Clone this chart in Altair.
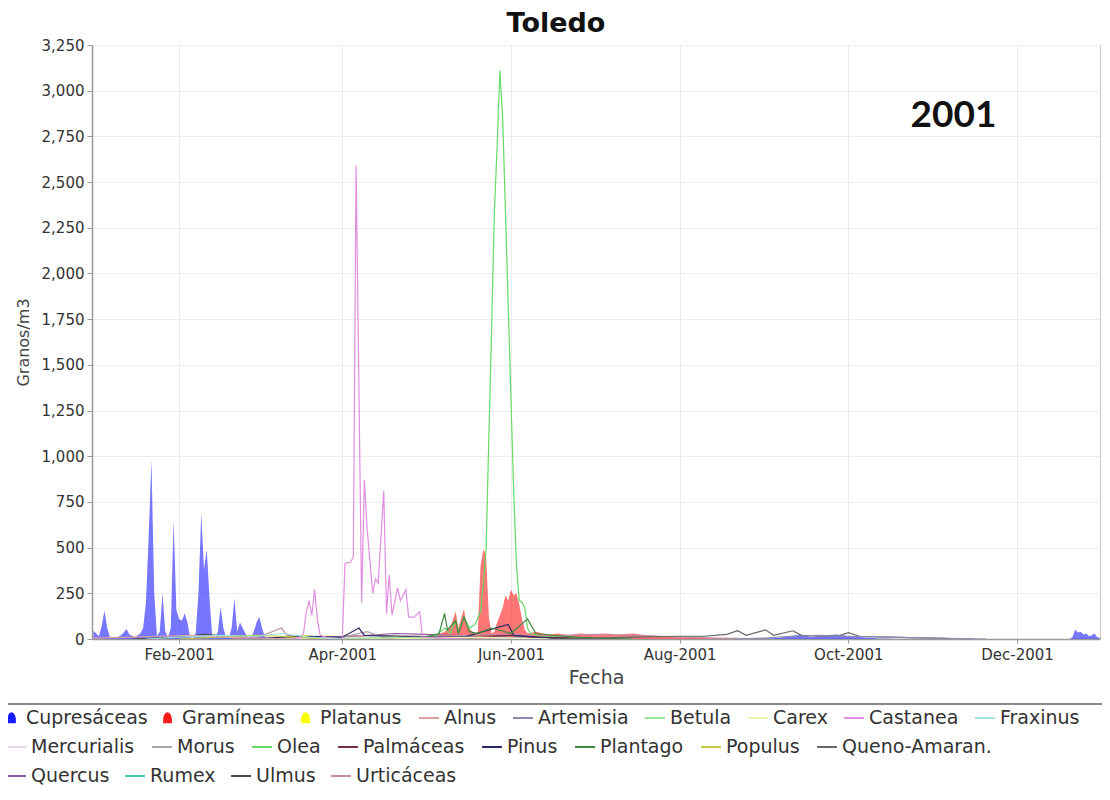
import altair as alt
import pandas as pd

# ---------------- data ----------------
area_series = ["Cupresáceas", "Gramíneas", "Platanus"]
area_colors = ["#1a1aff", "#ff1a1a", "#ffff00"]

line_series_a = ["Alnus", "Artemisia", "Betula", "Carex", "Castanea", "Fraxinus"]
line_colors_a = ["#d9a3a3", "#8c8cb3", "#99e699", "#f2f2b3", "#e08ee0", "#9fe0e0"]

line_series_b = ["Mercurialis", "Morus", "Olea", "Palmáceas", "Pinus", "Plantago",
                 "Populus", "Queno-Amaran."]
line_colors_b = ["#e6d5e6", "#a6a6a6", "#66da66", "#7a2e4a", "#2a2a6a", "#3d8a3d",
                 "#c8c83c", "#666666"]

line_series_c = ["Quercus", "Rumex", "Ulmus", "Urticáceas"]
line_colors_c = ["#8e5a9e", "#3cc8b4", "#4a4a4a", "#c48aa4"]

cupre_dates = ["01-01", "01-02", "01-03", "01-04", "01-05", "01-06", "01-07", "01-09", "01-11", "01-12",
               "01-13", "01-14", "01-16", "01-17", "01-18", "01-19", "01-20", "01-21", "01-22", "01-23",
               "01-24", "01-25", "01-26", "01-27", "01-28", "01-29", "01-30", "01-31", "02-01", "02-02",
               "02-03", "02-04", "02-05", "02-06", "02-07", "02-08", "02-09", "02-10", "02-11", "02-12",
               "02-13", "02-14", "02-15", "02-16", "02-17", "02-18", "02-19", "02-20", "02-21", "02-22",
               "02-23", "02-24", "02-25", "02-26", "02-27", "02-28", "03-01", "03-02", "03-03", "03-04",
               "03-08", "03-15", "03-25", "04-05", "04-20", "08-25", "09-05", "09-10", "09-14", "09-18",
               "09-22", "09-27", "10-01", "10-06", "10-12", "10-20", "12-20", "12-21", "12-22", "12-23",
               "12-24", "12-25", "12-26", "12-27", "12-28", "12-29", "12-30", "12-31"]
cupre_vals = [45, 30, 15, 70, 155, 60, 10, 5, 20, 35,
              55, 25, 10, 20, 30, 60, 200, 560, 980, 250,
              15, 40, 250, 40, 10, 60, 650, 160, 110, 100,
              140, 90, 10, 5, 30, 250, 690, 380, 490, 220,
              10, 5, 40, 175, 60, 10, 5, 60, 225, 40,
              90, 60, 30, 5, 10, 40, 90, 120, 60, 10,
              5, 8, 3, 2, 0, 0, 5, 15, 25, 10,
              20, 25, 15, 10, 3, 0, 0, 10, 50, 35,
              40, 25, 30, 15, 20, 30, 10, 5]

gram_dates = ["04-20", "05-01", "05-05", "05-08", "05-10", "05-12", "05-13", "05-15", "05-16", "05-18",
              "05-19", "05-20", "05-21", "05-22", "05-23", "05-24", "05-25", "05-26", "05-27", "05-28",
              "05-29", "05-30", "05-31", "06-01", "06-02", "06-03", "06-04", "06-05", "06-06", "06-07",
              "06-10", "06-14", "06-18", "06-22", "06-26", "07-01", "07-05", "07-10", "07-15", "07-20",
              "07-25", "07-31", "08-10", "08-31"]
gram_vals = [0, 5, 20, 40, 60, 150, 60, 165, 70, 40,
             30, 40, 400, 490, 460, 120, 30, 40, 90, 130,
             170, 240, 210, 270, 240, 250, 190, 110, 50, 30,
             40, 25, 30, 20, 30, 25, 30, 25, 30, 20,
             15, 10, 5, 0]

plat_dates = ["03-05", "03-12", "03-18", "03-22", "03-28", "04-02", "04-10", "04-20"]
plat_vals = [0, 10, 25, 15, 20, 10, 5, 0]

alnus_dates = ["01-01", "01-15", "01-25", "02-05", "02-15", "03-01", "03-15"]
alnus_vals = [5, 10, 15, 20, 10, 5, 0]

artem_dates = ["08-20", "09-01", "09-10", "09-20", "10-01", "10-15", "11-01", "11-20"]
artem_vals = [0, 5, 15, 20, 15, 10, 5, 0]

betula_dates = ["04-01", "04-10", "04-20", "05-01", "05-10"]
betula_vals = [0, 5, 10, 5, 0]

carex_dates = ["04-15", "05-01", "05-20", "06-01", "06-15"]
carex_vals = [0, 5, 10, 5, 0]

cast_dates = ["03-14", "03-17", "03-18", "03-19", "03-20", "03-21", "03-22", "03-23", "03-24", "03-26",
              "03-29", "04-01", "04-02", "04-04", "04-05", "04-06", "04-08", "04-09", "04-10", "04-12",
              "04-13", "04-14", "04-16", "04-17", "04-18", "04-19", "04-21", "04-22", "04-24", "04-25",
              "04-27", "04-29", "04-30", "05-05", "05-15"]
cast_vals = [0, 10, 30, 150, 210, 130, 270, 110, 20, 10,
             5, 0, 415, 420, 450, 2590, 200, 870, 600, 250,
             330, 305, 810, 140, 350, 130, 280, 210, 270, 120,
             120, 150, 10, 5, 0]

frax_dates = ["01-20", "02-01", "02-15", "03-01", "03-10", "03-20", "04-01"]
frax_vals = [0, 10, 20, 15, 30, 10, 0]

merc_dates = ["03-01", "04-01", "05-01", "06-01", "07-01"]
merc_vals = [0, 5, 10, 5, 0]

morus_dates = ["03-20", "04-01", "04-10", "04-15", "04-25", "05-05", "05-20"]
morus_vals = [0, 10, 40, 15, 10, 5, 0]

olea_dates = ["04-20", "05-01", "05-05", "05-08", "05-10", "05-12", "05-13", "05-15", "05-17", "05-19",
              "05-21", "05-22", "05-23", "05-24", "05-25", "05-26", "05-27", "05-28", "05-29", "05-30",
              "05-31", "06-01", "06-02", "06-03", "06-04", "06-05", "06-06", "06-07", "06-08", "06-12",
              "06-20", "07-01", "07-15"]
olea_vals = [0, 10, 20, 60, 30, 100, 40, 120, 60, 80,
             150, 300, 490, 1100, 1700, 2330, 2700, 3110, 2850, 2340,
             1830, 1310, 800, 400, 210, 200, 170, 60, 30, 15,
             10, 5, 0]

palm_dates = ["04-15", "05-01", "05-15", "06-01", "06-10", "06-25", "07-10"]
palm_vals = [0, 5, 10, 20, 10, 5, 0]

pinus_dates = ["03-01", "03-10", "03-20", "04-01", "04-07", "04-09", "04-20", "05-01", "05-15", "05-31",
               "06-02", "06-15", "07-01"]
pinus_vals = [0, 10, 15, 10, 60, 20, 15, 10, 10, 80,
              20, 5, 0]

plant_dates = ["04-20", "05-01", "05-06", "05-08", "05-09", "05-12", "05-13", "05-15", "05-17", "05-20",
               "05-25", "06-01", "06-07", "06-10", "06-20", "07-01", "07-15"]
plant_vals = [0, 10, 30, 140, 50, 100, 30, 120, 40, 30,
              60, 30, 110, 30, 15, 5, 0]

popul_dates = ["02-01", "02-15", "03-01", "03-10", "03-20", "04-01"]
popul_vals = [0, 10, 20, 15, 5, 0]

queno_dates = ["06-15", "07-01", "07-15", "08-01", "08-10", "08-18", "08-22", "08-25", "09-01", "09-04",
               "09-11", "09-14", "09-20", "09-28", "10-01", "10-05", "10-15", "10-31", "11-15"]
queno_vals = [0, 5, 10, 15, 15, 25, 45, 20, 50, 20,
              45, 20, 15, 20, 35, 15, 10, 5, 0]

querc_dates = ["03-25", "04-01", "04-10", "04-20", "05-01", "05-10", "05-20", "06-01", "06-15"]
querc_vals = [0, 10, 20, 30, 25, 20, 15, 10, 0]

rumex_dates = ["04-15", "05-01", "05-15", "06-01", "06-15"]
rumex_vals = [0, 5, 10, 5, 0]

ulmus_dates = ["01-15", "02-01", "02-10", "02-20", "03-01", "03-15"]
ulmus_vals = [0, 10, 25, 15, 5, 0]

urt_dates = ["02-20", "03-01", "03-05", "03-10", "03-12", "03-20", "04-01", "04-15", "05-01", "05-15",
             "06-01", "06-10", "07-01", "07-15", "08-01", "08-15", "09-01"]
urt_vals = [0, 10, 30, 60, 20, 10, 15, 20, 15, 20,
            30, 15, 25, 20, 10, 5, 0]

y_ticks = list(range(0, 3251, 250))
x_tick_months = [2, 4, 6, 8, 10, 12]

ann_dates = ["11-08"]
ann_vals = [2860]
ann_text = ["2001"]

# ---------------- build tables ----------------
series_points = {
    "Cupresáceas": (cupre_dates, cupre_vals),
    "Gramíneas": (gram_dates, gram_vals),
    "Platanus": (plat_dates, plat_vals),
    "Alnus": (alnus_dates, alnus_vals),
    "Artemisia": (artem_dates, artem_vals),
    "Betula": (betula_dates, betula_vals),
    "Carex": (carex_dates, carex_vals),
    "Castanea": (cast_dates, cast_vals),
    "Fraxinus": (frax_dates, frax_vals),
    "Mercurialis": (merc_dates, merc_vals),
    "Morus": (morus_dates, morus_vals),
    "Olea": (olea_dates, olea_vals),
    "Palmáceas": (palm_dates, palm_vals),
    "Pinus": (pinus_dates, pinus_vals),
    "Plantago": (plant_dates, plant_vals),
    "Populus": (popul_dates, popul_vals),
    "Queno-Amaran.": (queno_dates, queno_vals),
    "Quercus": (querc_dates, querc_vals),
    "Rumex": (rumex_dates, rumex_vals),
    "Ulmus": (ulmus_dates, ulmus_vals),
    "Urticáceas": (urt_dates, urt_vals),
}


def table(names):
    rows = []
    for n in names:
        ds, vs = series_points[n]
        for d, v in zip(ds, vs):
            rows.append({"fecha": "2001-" + d, "valor": v, "serie": n})
    return pd.DataFrame(rows)


df_area = table(area_series)
df_la = table(line_series_a)
df_lb = table(line_series_b)
df_lc = table(line_series_c)
df_ann = pd.DataFrame({"fecha": ["2001-" + d for d in ann_dates], "valor": ann_vals, "txt": ann_text})

# ---------------- chart ----------------
W, H = 1008, 594
FONT = "DejaVu Sans"

x_enc = alt.X(
    "fecha:T",
    title="Fecha",
    scale=alt.Scale(type="utc", nice=False,
                    domain=[alt.DateTime(year=2000, month=12, date=31, hours=12, utc=True),
                            alt.DateTime(year=2001, month=12, date=31, utc=True)]),
    axis=alt.Axis(values=[alt.DateTime(year=2001, month=m, date=1, utc=True) for m in x_tick_months],
                  format="%b-%Y", labelFontSize=15, titleFontSize=19, tickSize=4,
                  labelPadding=4, titlePadding=6, labelFlush=False),
)
y_enc = alt.Y(
    "valor:Q",
    title="Granos/m3",
    stack=None,
    scale=alt.Scale(domain=[0, 3250], nice=False),
    axis=alt.Axis(values=y_ticks, format=",d", labelFontSize=15, titleFontSize=16,
                  tickSize=5, labelPadding=3, titlePadding=10),
)

common_legend = dict(orient="none", direction="horizontal", title=None, labelFont=FONT,
                     labelFontSize=19, labelColor="#333333", labelLimit=400, symbolOpacity=1)
line_legend = dict(symbolType="stroke", symbolSize=400, symbolStrokeWidth=2, labelOffset=4,
                   **common_legend)

areas = alt.Chart(df_area).mark_area(opacity=0.6, interpolate="linear", clip=True).encode(
    x=x_enc, y=y_enc,
    fill=alt.Fill("serie:N", sort=area_series,
                  scale=alt.Scale(domain=area_series, range=area_colors),
                  legend=alt.Legend(legendX=-90, legendY=663, columns=3, columnPadding=10,
                                    symbolType="M-0.8,1L-0.8,0.2Q-0.6,-1 0,-1Q0.6,-1 0.8,0.2L0.8,1Z",
                                    symbolSize=120, labelOffset=5, **common_legend)),
)

lines_a = alt.Chart(df_la).mark_line(strokeWidth=1.2, clip=True).encode(
    x=x_enc, y=y_enc,
    stroke=alt.Stroke("serie:N", sort=line_series_a,
                      scale=alt.Scale(domain=line_series_a, range=line_colors_a),
                      legend=alt.Legend(legendX=326, legendY=662, columns=6, columnPadding=12,
                                        **line_legend)),
)

lines_b = alt.Chart(df_lb).mark_line(strokeWidth=1.2, clip=True).encode(
    x=x_enc, y=y_enc,
    color=alt.Color("serie:N", sort=line_series_b,
                    scale=alt.Scale(domain=line_series_b, range=line_colors_b),
                    legend=alt.Legend(legendX=-87, legendY=691, columns=8, columnPadding=13,
                                      **line_legend)),
)

lines_c = alt.Chart(df_lc).mark_line(strokeWidth=1.2, clip=True).encode(
    x=x_enc, y=y_enc,
    color=alt.Color("serie:N", sort=line_series_c,
                    scale=alt.Scale(domain=line_series_c, range=line_colors_c),
                    legend=alt.Legend(legendX=-87, legendY=720, columns=4, columnPadding=11,
                                      **line_legend)),
)

ann = alt.Chart(df_ann).mark_text(font="Lato", fontWeight="bold", fontSize=37, color="#111111",
                                  baseline="middle", align="center").encode(
    x=x_enc, y=y_enc, text="txt:N")

sep = alt.Chart(df_ann).mark_rule(color="#8a8a8a", strokeWidth=2).encode(
    x=alt.value(-84), x2=alt.value(W + 2), y=alt.value(659))

chart = alt.layer(areas, lines_c, lines_b, lines_a, ann, sep).resolve_scale(
    color="independent", fill="independent", stroke="independent"
).properties(
    width=W, height=H,
    autosize=alt.AutoSizeParams(type="none"),
    padding={"left": 84, "top": 37, "right": 2, "bottom": 147},
    title=alt.TitleParams("Toledo", font=FONT, fontSize=27, fontWeight="bold", color="#111111",
                          anchor="middle", dx=-40, offset=0),
).configure_axis(
    labelFont=FONT, titleFont=FONT, labelColor="#333333", titleColor="#444444",
    titleFontWeight="normal", domainColor="#9a9a9a", domainWidth=1.5, tickColor="#9a9a9a",
    gridColor="#ececec", gridWidth=1,
).configure_view(stroke="#c8c8c8", strokeWidth=1)

chart.save("out.html", embed_options={"renderer": "svg", "actions": False})
